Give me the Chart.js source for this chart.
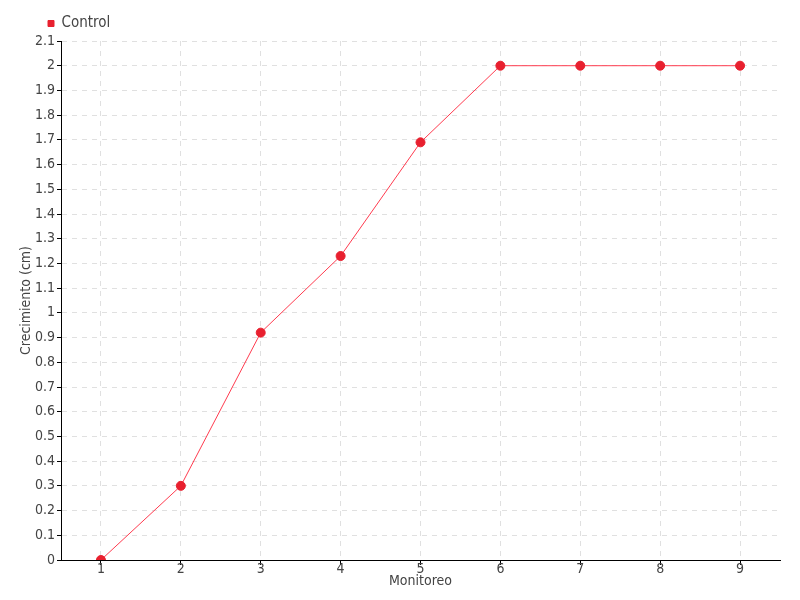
<!DOCTYPE html>
<html><head><meta charset="utf-8">
<script src="https://cdn.jsdelivr.net/npm/chart.js@4/dist/chart.umd.min.js"></script>
<style>html,body{margin:0;padding:0;background:#fff}#w{width:800px;height:600px}</style>
</head><body><div id="w"><canvas id="c" width="800" height="600"></canvas></div>
<script>
const categories = ['1','2','3','4','5','6','7','8','9'];
const controlValues = [0, 0.3, 0.92, 1.23, 1.69, 2, 2, 2, 2];
const seriesName = 'Control';
const FONT = "'DejaVu Sans Condensed','Liberation Sans Narrow','Roboto',sans-serif";
Chart.defaults.font.family = FONT;
const shiftLegend = { id: 'shiftLegend', afterLayout(chart) { if (chart.legend) { chart.legend.left += 20; } } };
new Chart(document.getElementById('c'), {
  type: 'line',
  data: { labels: categories, datasets: [{
    label: seriesName, data: controlValues,
    borderColor: '#ff3b4f', borderWidth: 1, backgroundColor: '#e8202f',
    pointBackgroundColor: '#e8202f', pointBorderColor: '#e8202f', pointRadius: 4.5, pointHoverRadius: 4.5,
    tension: 0, fill: false
  }]},
  plugins: [shiftLegend],
  options: {
    responsive: false, animation: false,
    layout: { padding: { left: 18, right: 20, top: 6, bottom: 0 } },
    plugins: {
      legend: { position: 'top', align: 'start',
        labels: { usePointStyle: true, pointStyle: 'rect', boxWidth: 6, boxHeight: 6, color: '#444', font: { size: 15 }, padding: 10 } },
      tooltip: { enabled: false }
    },
    scales: {
      x: { offset: true,
        afterFit: s => { s.height = 40; },
        grid: { color: '#e0e0e0', tickColor: '#000', tickLength: 5, drawTicks: true },
        border: { color: '#000', width: 1, dash: [5,5] },
        ticks: { color: '#444', font: { size: 14 }, padding: -4 },
        title: { display: true, text: 'Monitoreo', color: '#444', font: { size: 14 }, padding: { top: 0, bottom: 10 } }
      },
      y: { min: 0, max: 2.1,
        afterFit: s => { s.width = 43; },
        grid: { color: '#e0e0e0', tickColor: '#000', tickLength: 4 },
        border: { color: '#000', width: 1, dash: [5,5] },
        ticks: { stepSize: 0.1, color: '#444', font: { size: 14 }, padding: 2, autoSkip: false,
          callback: v => Math.round(v*10)/10 },
        title: { display: true, text: 'Crecimiento (cm)', color: '#444', font: { size: 14 }, padding: 0 }
      }
    }
  }
});
</script></body></html>
